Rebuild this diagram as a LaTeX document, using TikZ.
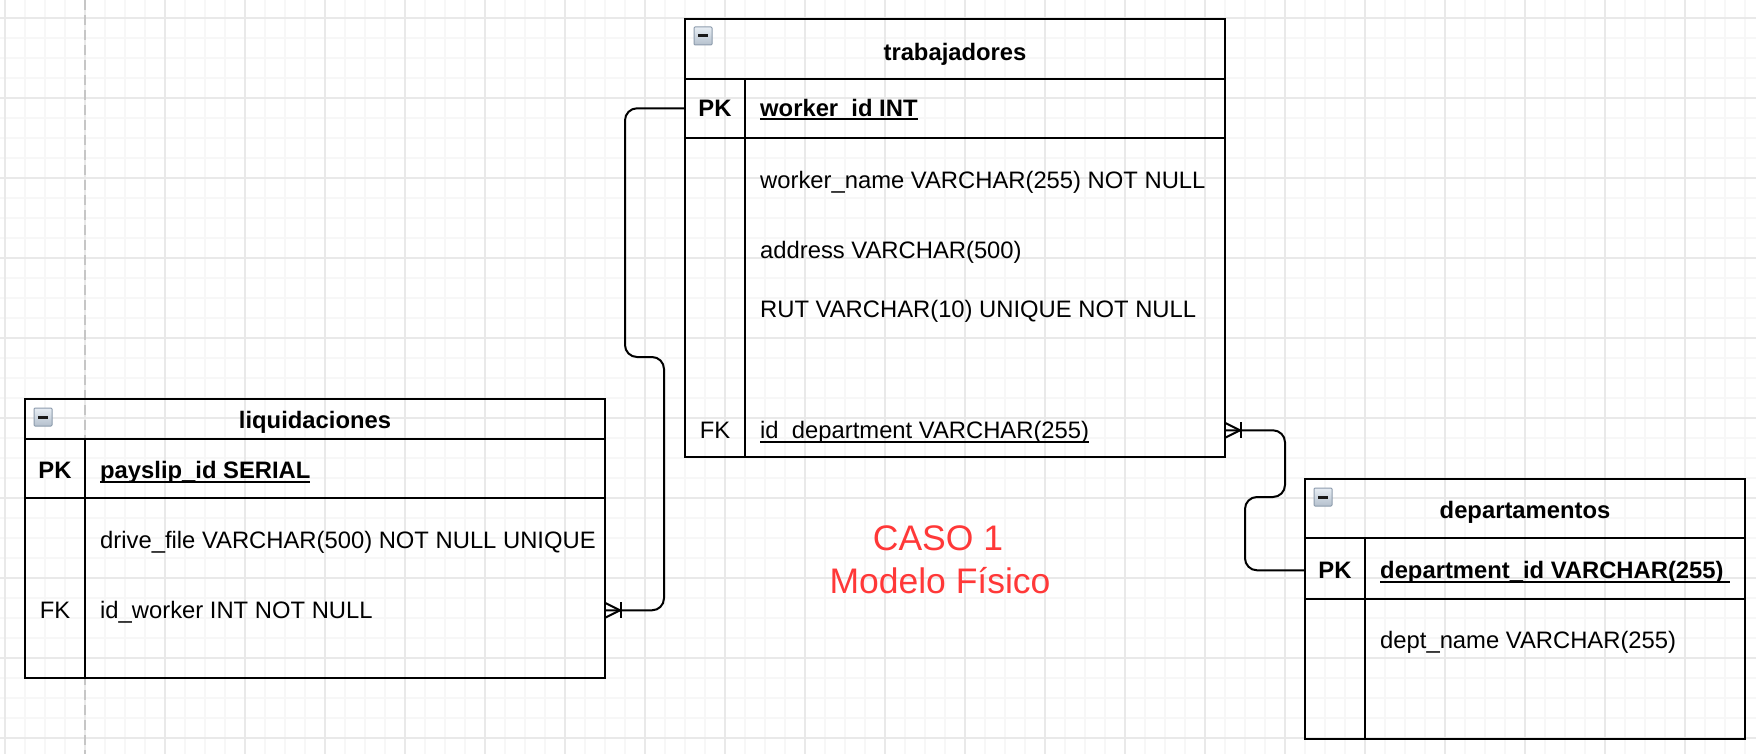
\documentclass[tikz,border=0pt]{standalone}
\usepackage{fontspec}
\setmainfont{Liberation Sans}
\usetikzlibrary{calc}
\definecolor{casored}{RGB}{255,56,56}
\definecolor{gridminor}{RGB}{247,247,247}
\definecolor{gridmajor}{RGB}{233,233,233}
\definecolor{iconborder}{RGB}{140,155,172}
\definecolor{icontop}{RGB}{232,238,244}
\definecolor{iconbottom}{RGB}{180,192,205}
\newcommand\tblfont{\fontsize{23.8}{28}\selectfont}
\newcommand\ulx[1]{\setbox0\hbox{#1}\rlap{\vrule width\wd0 height -2pt depth 4pt}\box0}
\begin{document}
\begin{tikzpicture}[x=1pt,y=-1pt,
  minorline/.style={draw=gridminor,line width=1.5pt},
  majorline/.style={draw=gridmajor,line width=2pt},
  tbl/.style={draw,line width=2pt,inner sep=0pt,outer sep=0pt,anchor=north west},
  sep/.style={line width=2pt},
  txt/.style={anchor=base west,inner sep=0pt,font=\tblfont},
  ttl/.style={anchor=base,inner sep=0pt,font=\tblfont\bfseries},
  keyb/.style={anchor=base,inner sep=0pt,font=\tblfont\bfseries},
  keyn/.style={anchor=base,inner sep=0pt,font=\tblfont},
  conn/.style={line width=2pt,rounded corners=12pt},
  crow/.style={line width=2pt},
  icon/.style={draw=iconborder,line width=1pt,top color=icontop,bottom color=iconbottom,minimum size=18pt,inner sep=0pt,rounded corners=1pt},
  redtxt/.style={anchor=base,inner sep=0pt,font=\fontsize{35.5}{40}\selectfont,text=casored}]
\useasboundingbox (0,0) rectangle (1756,754);
\fill[white] (0,0) rectangle (1756,754);
% grid
\foreach \i in {0,...,87} \draw[minorline] ({5+20*\i},0) -- ({5+20*\i},754);
\foreach \j in {0,...,36} \draw[minorline] (0,{18+20*\j}) -- (1756,{18+20*\j});
\foreach \i in {0,...,21} \draw[majorline] ({5+80*\i},0) -- ({5+80*\i},754);
\foreach \j in {0,...,9} \draw[majorline] (0,{18+80*\j}) -- (1756,{18+80*\j});
\draw[gray!45,line width=2pt,dash pattern=on 10pt off 5pt] (85,0) -- (85,754);

% trabajadores
\node[tbl,minimum width=540pt,minimum height=438pt] (trab) at (685,19) {};
\draw[sep] (685,79) -- (1225,79);
\draw[sep] (685,138) -- (1225,138);
\draw[sep] (745,79) -- (745,457);
\node[icon] (ictrab) at (703,36) {};
\draw[line width=3pt,gray!20!black] (ictrab.center) ++(-5,0) -- ++(10,0);
\node[ttl] (ttrab) at (955,60.5) {trabajadores};
\node[keyb] (tpk) at (715,116.5) {PK};
\node[txt,font=\tblfont\bfseries] (tpkt) at (760,116.5) {\ulx{worker\_id INT}};
\node[txt] (twn) at (760,188.5) {worker\_name VARCHAR(255) NOT NULL};
\node[txt] (tad) at (760,258.5) {address VARCHAR(500)};
\node[txt] (trut) at (760,317.5) {RUT VARCHAR(10) UNIQUE NOT NULL};
\node[keyn] (tfk) at (715,438.5) {FK};
\node[txt] (tfkt) at (760,438.5) {\ulx{id\_department VARCHAR(255)}};

% liquidaciones
\node[tbl,minimum width=580.5pt,minimum height=279pt] (liq) at (24.5,399) {};
\draw[sep] (24.5,439) -- (605,439);
\draw[sep] (24.5,498) -- (605,498);
\draw[sep] (85,439) -- (85,678);
\node[icon] (icliq) at (43,417) {};
\draw[line width=3pt,gray!20!black] (icliq.center) ++(-5,0) -- ++(10,0);
\node[ttl] (tliq) at (315,428.5) {liquidaciones};
\node[keyb] (lpk) at (55,478.5) {PK};
\node[txt,font=\tblfont\bfseries] (lpkt) at (100,478.5) {\ulx{payslip\_id SERIAL}};
\node[txt] (ldf) at (100,548.5) {drive\_file VARCHAR(500) NOT NULL UNIQUE};
\node[keyn] (lfk) at (55,618.5) {FK};
\node[txt] (lfkt) at (100,618.5) {id\_worker INT NOT NULL};

% departamentos
\node[tbl,minimum width=440pt,minimum height=260pt] (dept) at (1305,479) {};
\draw[sep] (1305,538) -- (1745,538);
\draw[sep] (1305,599) -- (1745,599);
\draw[sep] (1365,538) -- (1365,739);
\node[icon] (icdept) at (1323,497) {};
\draw[line width=3pt,gray!20!black] (icdept.center) ++(-5,0) -- ++(10,0);
\node[ttl] (tdept) at (1525,518.5) {departamentos};
\node[keyb] (dpk) at (1335,578.5) {PK};
\node[txt,font=\tblfont\bfseries] (dpkt) at (1380,578.5) {\ulx{department\_id VARCHAR(255)\ }};
\node[txt] (ddn) at (1380,648.5) {dept\_name VARCHAR(255)};

% caption
\node[redtxt] (caso) at (938,550) {CASO 1};
\node[redtxt] (modelo) at (940,593) {Modelo Físico};

% connector trabajadores PK -> liquidaciones FK
\coordinate (e1) at (liq.east |- lfk.center);
\draw[conn] (trab.west |- tpk.center) -- ++(-60,0) |- (664,357) |- (e1);
\draw[crow] (e1) ++(0,-7.5) -- ++(15,7.5) -- ++(-15,7.5);
\draw[crow] (e1) ++(16,-8) -- ++(0,16);

% connector trabajadores FK -> departamentos PK
\coordinate (e2) at (trab.east |- tfk.center);
\draw[conn] (e2) -- ++(60,0) |- (1245,497) |- (dept.west |- dpk.center);
\draw[crow] (e2) ++(0,-7.5) -- ++(15,7.5) -- ++(-15,7.5);
\draw[crow] (e2) ++(16,-8) -- ++(0,16);
\end{tikzpicture}
\end{document}
